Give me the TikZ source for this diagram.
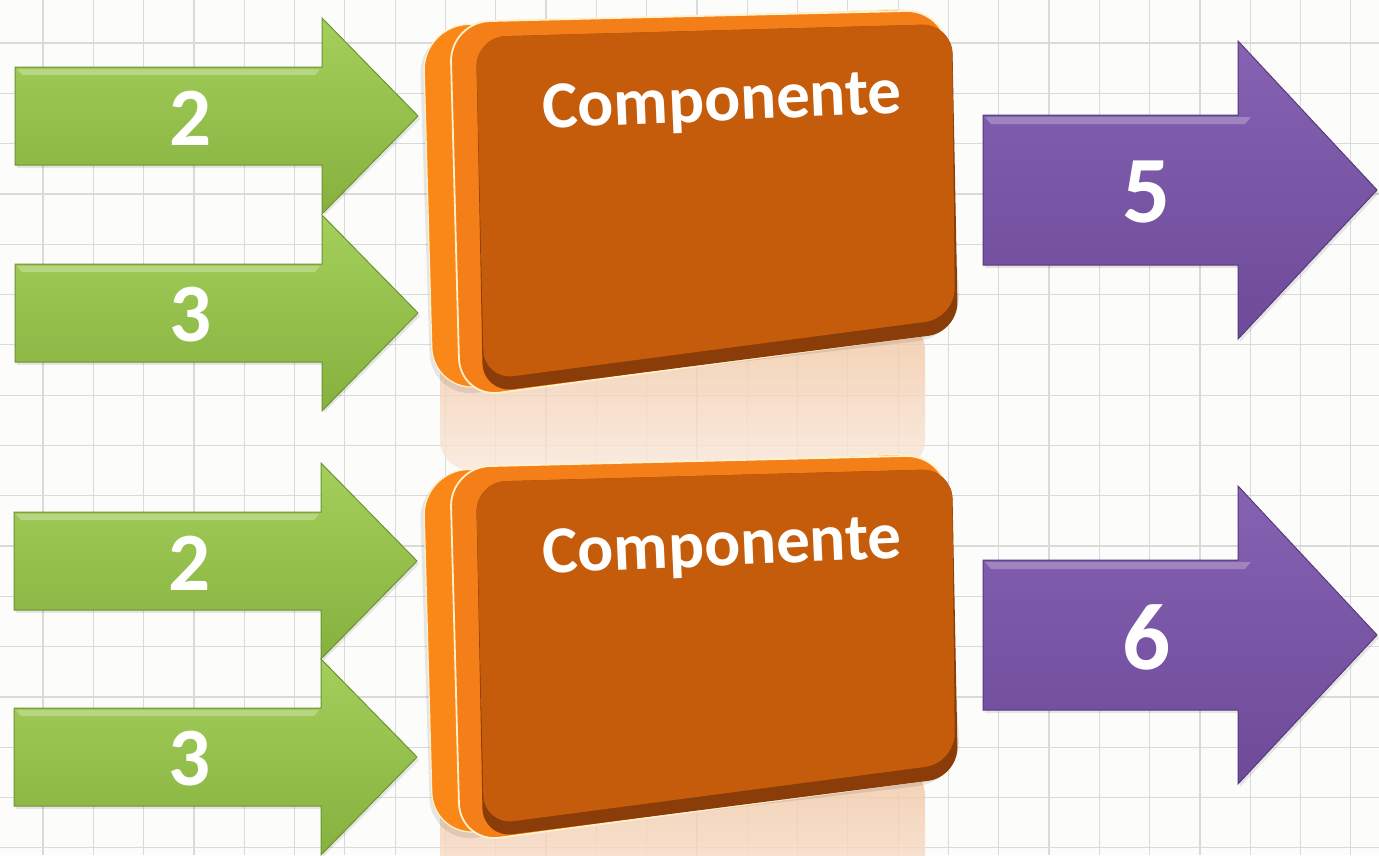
\documentclass[tikz,border=0pt]{standalone}
\usepackage{fontspec}
\setmainfont{Carlito}
\definecolor{bg}{HTML}{FCFCFA}
\definecolor{gridc}{HTML}{DADADA}
\definecolor{garTop}{HTML}{A5CF5B}
\definecolor{garBot}{HTML}{86B13E}
\definecolor{garEdge}{HTML}{6C9434}
\definecolor{parTop}{HTML}{8563B2}
\definecolor{parBot}{HTML}{6E4A99}
\definecolor{parEdge}{HTML}{57397D}
\definecolor{backOr}{HTML}{F98818}
\definecolor{frontOr}{HTML}{F47F18}
\definecolor{faceOr}{HTML}{C55C0B}
\definecolor{bandBr}{HTML}{8A3D08}
\definecolor{cream}{HTML}{FFF1CC}
\definecolor{peach}{HTML}{F2C4A0}
\tikzset{
  lbl/.style={inner sep=0pt, text=white, font=\bfseries\fontsize{83}{83}\selectfont},
  lblbig/.style={inner sep=0pt, text=white, font=\bfseries\fontsize{95}{95}\selectfont},
  comptext/.style={inner sep=0pt, text=white, font=\bfseries\fontsize{67}{67}\selectfont, rotate=2.5},
  gridline/.style={draw=gridc, line width=1.2pt},
  greenbody/.style={top color=garTop, bottom color=garBot, draw=garEdge, line width=1pt},
  purplebody/.style={top color=parTop, bottom color=parBot, draw=parEdge, line width=1pt},
  dropshadow/.style={fill=black, opacity=.09},
}
\newcommand\greenarrow[4]{%
  \begin{scope}[shift={(#2,#3)}]
    \path[dropshadow] (2,-46) -- (309,-46) -- (309,-95) -- (405,3) -- (309,100) -- (309,52) -- (2,52) -- cycle;
    \shade[greenbody] (0,-49) -- (307,-49) -- (307,-98) -- (403,0) -- (307,98) -- (307,49) -- (0,49) -- cycle;
    \fill[white, opacity=.28] (2,-47) -- (305,-47) -- (300,-41) -- (7,-41) -- cycle;
    \node[lbl] (#1) at (176,2) {#4};
  \end{scope}}
\newcommand\purplearrow[4]{%
  \begin{scope}[shift={(#2,#3)}]
    \path[dropshadow] (2,-72) -- (257,-72) -- (257,-146) -- (396,3) -- (257,152) -- (257,78) -- (2,78) -- cycle;
    \shade[purplebody] (0,-75) -- (255,-75) -- (255,-149) -- (394,0) -- (255,149) -- (255,75) -- (0,75) -- cycle;
    \fill[white, opacity=.25] (2,-73) -- (268,-73) -- (262,-66) -- (8,-66) -- cycle;
    \node[lblbig] (#1) at (164,2) {#4};
  \end{scope}}
\newcommand\compbox[2]{%
  \begin{scope}[shift={(0,#2)}]
    \path[dropshadow, rounded corners=45] (419,30) -- (940,12) -- (962,336) -- (431,398) -- cycle;
    \fill[backOr, draw=cream, line width=1.2pt, rounded corners=45] (423,26) -- (940,8) -- (958,330) -- (433,392) -- cycle;
    \fill[frontOr, draw=cream, line width=1.8pt, rounded corners=40] (450,22) -- (946,10) -- (958,331) -- (460,398) -- cycle;
    \fill[bandBr, rounded corners=30] (476,37) -- (952,24) -- (958,332) -- (483,393) -- cycle;
    \fill[faceOr, rounded corners=30] (476,37) -- (952,24) -- (955,318) -- (484,380) -- cycle;
    \node[comptext] (#1) at (722,104) {Componente};
  \end{scope}}
\begin{document}
\begin{tikzpicture}[x=1pt,y=-1pt]
  \useasboundingbox (0,0) rectangle (1379,855);
  \fill[bg] (0,0) rectangle (1379,855);
  % grid
  \foreach \i in {0,...,26} \draw[gridline] ({43+50.3*\i},0) -- ({43+50.3*\i},855);
  \foreach \i in {0,...,16} \draw[gridline] (0,{43+50.3*\i}) -- (1379,{43+50.3*\i});
  % reflections
  \shade[top color=peach, bottom color=peach!35!bg, opacity=.8, rounded corners=30] (440,320) rectangle (925,470);
  \shade[top color=peach, bottom color=peach!35!bg, opacity=.8, rounded corners=30] (440,765) rectangle (925,915);
  % boxes
  \compbox{compA}{0}
  \compbox{compB}{445}
  % green input arrows
  \greenarrow{inA}{15}{116}{2}
  \greenarrow{inB}{15}{313}{3}
  \greenarrow{inC}{14}{561}{2}
  \greenarrow{inD}{14}{757}{3}
  % purple output arrows
  \purplearrow{outA}{983}{190}{5}
  \purplearrow{outB}{983}{635}{6}
\end{tikzpicture}
\end{document}
